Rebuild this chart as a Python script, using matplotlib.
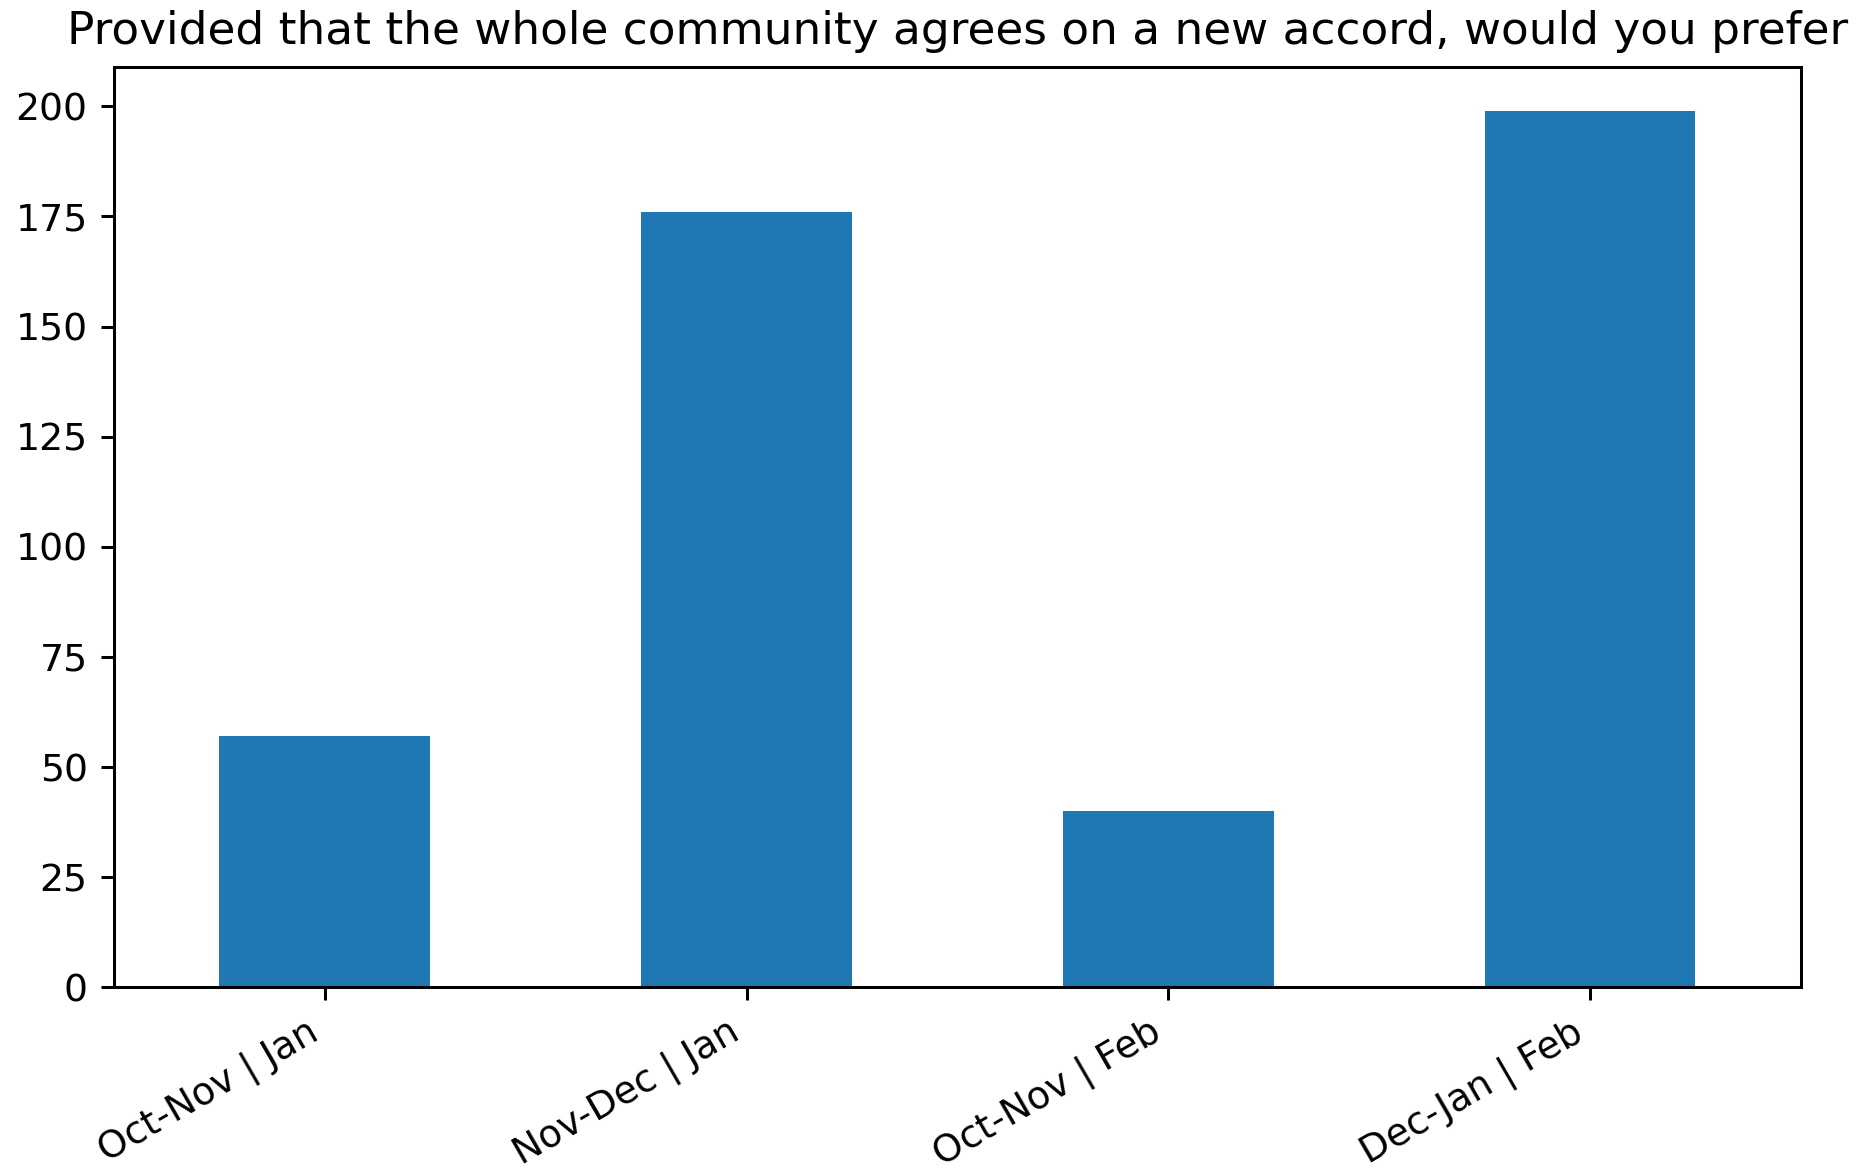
import matplotlib
matplotlib.use('Agg')
import matplotlib.pyplot as plt
import pandas as pd

categories = ['Oct-Nov | Jan', 'Nov-Dec | Jan', 'Oct-Nov | Feb', 'Dec-Jan | Feb']
counts = [57, 176, 40, 199]

s = 1.36  # text and line scale

figure = plt.figure(figsize=(9.35, 5.87), dpi=200)
ax = figure.add_axes([0.061, 0.159, 0.902, 0.784])

data = pd.Series(counts, index=categories)
data.plot(kind='bar', ax=ax, color='#1f77b4')

ax.set_title('Provided that the whole community agrees on a new accord, would you prefer',
             fontsize=12 * s, pad=6 * s)
ax.set_xticklabels(categories, rotation=30, ha='right')
ax.tick_params(labelsize=10 * s, length=3.5 * s, width=0.8 * s, pad=3.5 * s)
for sp in ax.spines.values():
    sp.set_linewidth(0.8 * s)

figure.savefig('out.png', dpi=200)
